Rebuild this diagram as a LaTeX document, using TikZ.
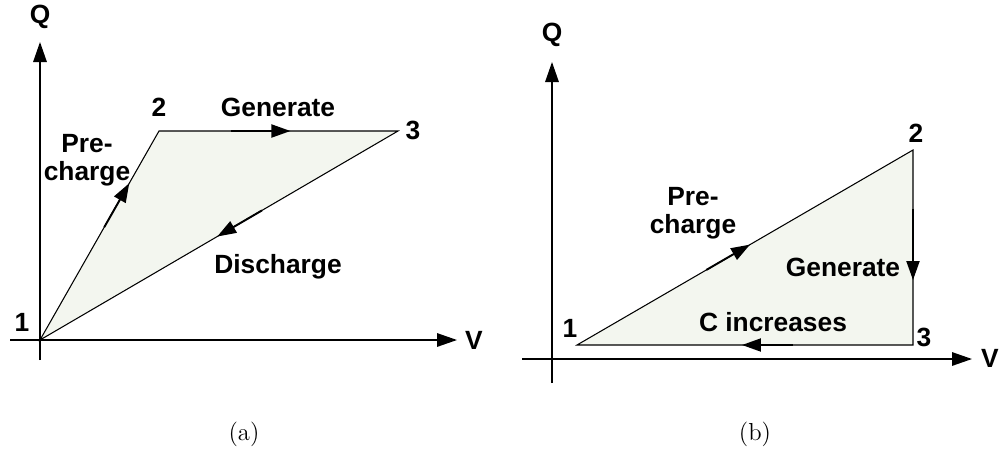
\documentclass[tikz,border=0pt]{standalone}
\usepackage{fontspec}
\setmainfont{Latin Modern Roman}
\newfontfamily\lbl{Liberation Sans}
\usetikzlibrary{arrows.meta,calc}
\definecolor{cyclefill}{RGB}{243,246,239}
\tikzset{
  axis/.style={line width=0.85pt,-{Triangle[length=0.4cm,width=0.27cm]}},
  edge/.style={line width=0.6pt},
  flow/.style={line width=1.1pt,-{Triangle[length=0.38cm,width=0.26cm]}},
  lab/.style={font=\lbl\bfseries\fontsize{15}{16}\selectfont,inner sep=0pt,align=center},
  captxt/.style={font=\fontsize{14}{16}\selectfont,inner sep=0pt}
}
\begin{document}
\begin{tikzpicture}[x=0.02cm,y=-0.02cm]
\useasboundingbox (0,0) rectangle (1002,454);
% ---------- panel (a)
\coordinate (a1) at (40,340);
\coordinate (a2) at (159,131);
\coordinate (a3) at (398,131);
\coordinate (aYb) at (40,360);
\coordinate (aYt) at (40,42);
\coordinate (aXl) at (10,340);
\coordinate (aXr) at (457,340);
\fill[cyclefill] (a1) -- (a2) -- (a3) -- cycle;
\draw[axis] (aYb) -- (aYt);
\draw[axis] (aXl) -- (aXr);
\draw[edge] (a1) -- (a2) -- (a3) -- cycle;
\draw[flow] ($(a1)!0.54!(a2)$) -- ($(a1)!0.75!(a2)$);
\draw[flow] ($(a2)!0.30!(a3)$) -- ($(a2)!0.55!(a3)$);
\draw[flow] ($(a3)!0.38!(a1)$) -- ($(a3)!0.505!(a1)$);
\node[lab] (aQ) at (40,17) {Q};
\node[lab] (aV) at (474,340) {V};
\node[lab] (an1) at (22,322) {1};
\node[lab] (an2) at (159,107) {2};
\node[lab] (an3) at (413,130) {3};
\node[lab] (agen) at (278,107) {Generate};
\node[lab] (apre) at (87,160) {Pre-\\charge};
\node[lab] (adis) at (278,267) {Discharge};
\node[captxt] (capa) at (244,434) {(a)};
% ---------- panel (b)
\coordinate (b1) at (577,345);
\coordinate (b2) at (913,150);
\coordinate (b3) at (913,345);
\coordinate (bYb) at (552,383);
\coordinate (bYt) at (552,62);
\coordinate (bXl) at (522,359);
\coordinate (bXr) at (972,359);
\fill[cyclefill] (b1) -- (b2) -- (b3) -- cycle;
\draw[axis] (bYb) -- (bYt);
\draw[axis] (bXl) -- (bXr);
\draw[edge] (b1) -- (b2) -- (b3) -- cycle;
\draw[flow] ($(b1)!0.385!(b2)$) -- ($(b1)!0.515!(b2)$);
\draw[flow] ($(b2)!0.30!(b3)$) -- ($(b2)!0.667!(b3)$);
\draw[flow] ($(b3)!0.357!(b1)$) -- ($(b3)!0.509!(b1)$);
\node[lab] (bQ) at (552,35) {Q};
\node[lab] (bV) at (990,358) {V};
\node[lab] (bn1) at (570,328) {1};
\node[lab] (bn2) at (916,133) {2};
\node[lab] (bn3) at (924,337) {3};
\node[lab] (bpre) at (693,213) {Pre-\\charge};
\node[lab] (bgen) at (843,267) {Generate};
\node[lab] (binc) at (773,322) {C increases};
\node[captxt] (capb) at (755,434) {(b)};
\end{tikzpicture}
\end{document}
